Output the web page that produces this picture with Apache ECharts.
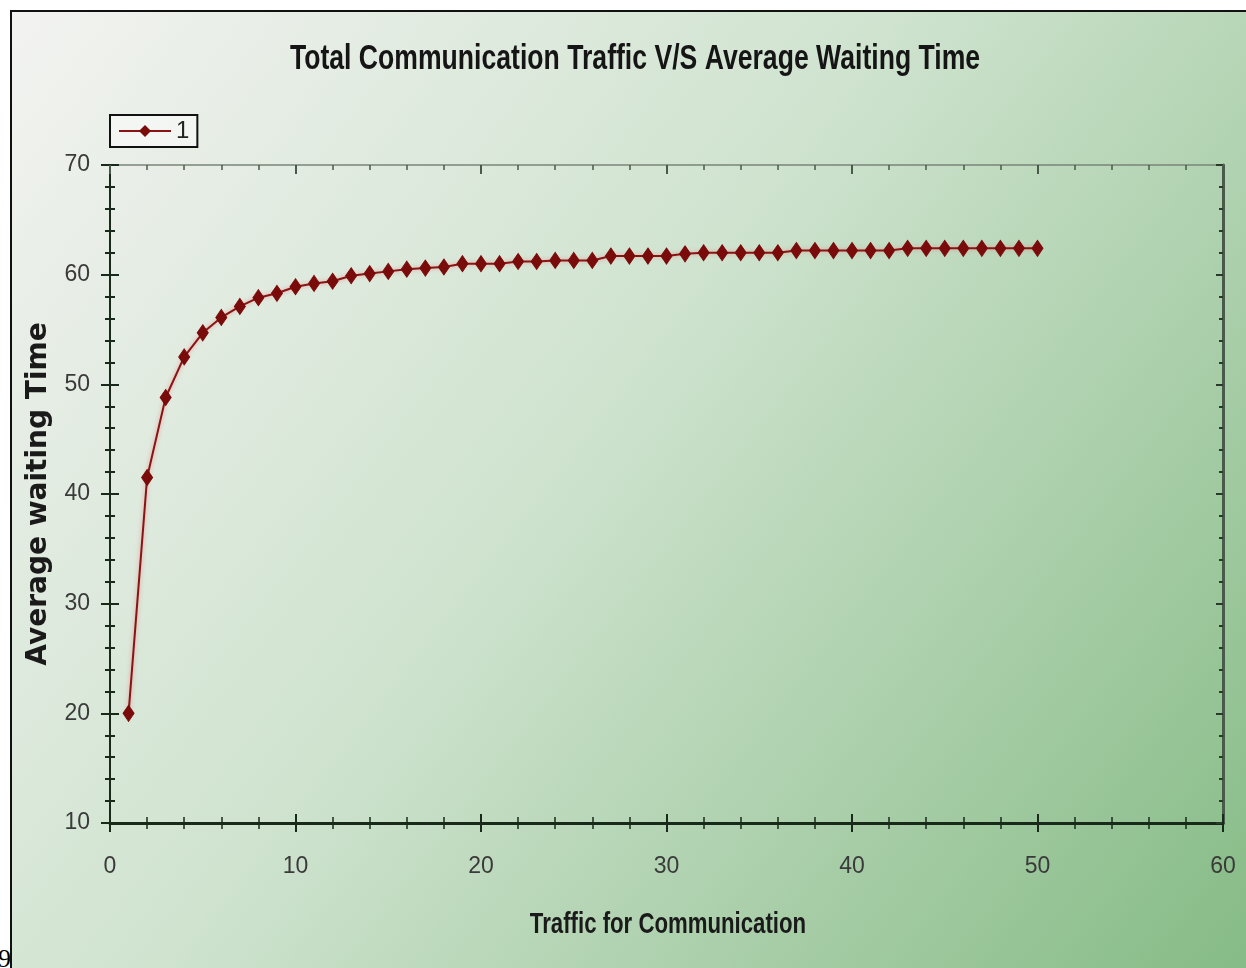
<!DOCTYPE html>
<html>
<head>
<meta charset="utf-8">
<script src="https://cdn.jsdelivr.net/npm/echarts@6/dist/echarts.min.js"></script>
<style>
html,body{margin:0;padding:0;background:#fff;width:1246px;height:968px;overflow:hidden;}
#chart{position:absolute;left:10px;top:10px;width:1234px;height:956px;border-left:2px solid #111;border-top:2px solid #111;}
#cap{position:absolute;left:-2px;top:944px;font-family:"Liberation Serif",serif;font-size:26px;color:#000;}
</style>
</head>
<body>
<div id="chart"></div>
<div id="cap">9</div>
<script>
const titleText = "Total Communication Traffic V/S Average Waiting Time";
const xAxisName = "Traffic for Communication";
const yAxisName = "Average waiting Time";
const seriesName = "1";
const xValues = [1,2,3,4,5,6,7,8,9,10,11,12,13,14,15,16,17,18,19,20,21,22,23,24,25,26,27,28,29,30,31,32,33,34,35,36,37,38,39,40,41,42,43,44,45,46,47,48,49,50];
const yValues = [20.0,41.5,48.8,52.5,54.7,56.1,57.1,57.9,58.3,58.9,59.2,59.4,59.9,60.1,60.3,60.5,60.6,60.7,61.0,61.0,61.0,61.2,61.2,61.3,61.3,61.3,61.7,61.7,61.7,61.7,61.9,62.0,62.0,62.0,62.0,62.0,62.2,62.2,62.2,62.2,62.2,62.2,62.4,62.4,62.4,62.4,62.4,62.4,62.4,62.4];
const xMin = 0, xMax = 60, xStep = 10;
const yMin = 10, yMax = 70, yStep = 10;

const sans = "'Liberation Sans',Arial,sans-serif";
const chart = echarts.init(document.getElementById('chart'));
const data = xValues.map((x,i)=>[x,yValues[i]]);

function baseX(extra){
  return Object.assign({type:'value',min:xMin,max:xMax,interval:xStep,splitLine:{show:false}}, extra);
}
function baseY(extra){
  return Object.assign({type:'value',min:yMin,max:yMax,interval:yStep,splitLine:{show:false}}, extra);
}
const dark = '#1a2a1a';
chart.setOption({
  backgroundColor: new echarts.graphic.LinearGradient(0,0,1,1,[
    {offset:0,color:'#f3f3f1'},
    {offset:0.45,color:'#cfe3cf'},
    {offset:1,color:'#86bb86'}
  ]),
  animation:false,
  graphic:[
    {type:'text',x:623,y:47,scaleX:0.76,silent:true,
     style:{text:titleText,font:"bold 35px 'Liberation Sans',Arial,sans-serif",fill:'#151515',align:'center',verticalAlign:'middle'}},
    {type:'text',x:656,y:913,scaleX:0.74,silent:true,
     style:{text:xAxisName,font:"bold 30px 'Liberation Sans',Arial,sans-serif",fill:'#1a1a1a',align:'center',verticalAlign:'middle'}}
  ],
  legend:{data:[seriesName],left:98,top:103,orient:'horizontal',borderColor:'#111',borderWidth:2,backgroundColor:'rgba(250,250,250,0.6)',padding:[4,8,4,8],itemWidth:52,itemHeight:15,itemGap:6,borderRadius:0,
    textStyle:{fontFamily:sans,fontSize:24,color:'#222'}},
  grid:{left:98,right:23,top:153,bottom:145,containLabel:false,outerBoundsMode:'none'},
  xAxis:[
    baseX({position:'bottom',
      axisLine:{show:true,onZero:false,lineStyle:{color:dark,width:3}},
      axisTick:{show:true,inside:false,length:9,lineStyle:{color:dark,width:2}},
      minorTick:{show:true,splitNumber:5,length:6,lineStyle:{color:dark,width:1.5}},
      axisLabel:{margin:32,fontFamily:sans,fontSize:23,color:'#3a3a3a'}}),
    baseX({position:'bottom',
      axisLine:{show:false,onZero:false},
      axisTick:{show:true,inside:true,length:9,lineStyle:{color:dark,width:2}},
      minorTick:{show:true,splitNumber:5,length:6,lineStyle:{color:dark,width:1.5}},
      axisLabel:{show:false}}),
    baseX({position:'top',
      axisLine:{show:true,onZero:false,lineStyle:{color:'#7a857a',width:1.5}},
      axisTick:{show:true,inside:true,length:9,lineStyle:{color:'#4a5a4a',width:2}},
      minorTick:{show:true,splitNumber:5,length:5,lineStyle:{color:'#4a5a4a',width:1.5}},
      axisLabel:{show:false}})
  ],
  yAxis:[
    baseY({position:'left',name:yAxisName,nameLocation:'middle',nameGap:57,nameRotate:90,
      nameTextStyle:{fontFamily:"'DejaVu Sans',Verdana,sans-serif",fontSize:28,fontWeight:'bold',color:'#1a1a1a'},
      axisLine:{show:true,onZero:false,lineStyle:{color:dark,width:2}},
      axisTick:{show:true,inside:false,length:9,lineStyle:{color:dark,width:2}},
      minorTick:{show:true,splitNumber:5,length:5,lineStyle:{color:dark,width:2}},
      axisLabel:{margin:20,fontFamily:sans,fontSize:23,color:'#3a3a3a'}}),
    baseY({position:'left',
      axisLine:{show:false,onZero:false},
      axisTick:{show:true,inside:true,length:9,lineStyle:{color:dark,width:2}},
      minorTick:{show:true,splitNumber:5,length:5,lineStyle:{color:dark,width:2}},
      axisLabel:{show:false}}),
    baseY({position:'right',
      axisLine:{show:true,onZero:false,lineStyle:{color:'#4a5a4a',width:3}},
      axisTick:{show:true,inside:true,length:7,lineStyle:{color:'#2a3a2a',width:2}},
      minorTick:{show:true,splitNumber:5,length:4,lineStyle:{color:'#2a3a2a',width:2}},
      axisLabel:{show:false}})
  ],
  series:[{
    name:seriesName,type:'line',xAxisIndex:0,yAxisIndex:0,data:data,
    symbol:'diamond',symbolSize:[11,16],
    itemStyle:{color:'#7a0b0b',borderColor:'#7a0b0b'},
    lineStyle:{color:'#8a1414',width:2,shadowColor:'rgba(230,120,120,0.7)',shadowBlur:4},
    smooth:false
  }]
});
</script>
</body>
</html>
